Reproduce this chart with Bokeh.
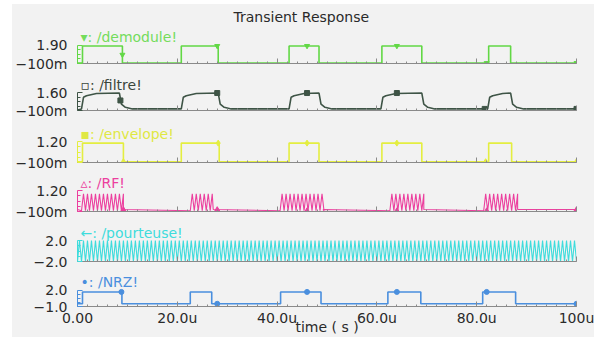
import numpy as np
from bokeh.plotting import figure
from bokeh.models import Range1d, FixedTicker, Label, CustomLabelingPolicy, Spacer
from bokeh.layouts import column, row
from bokeh.embed import file_html
from bokeh.resources import INLINE

# ---------------- data (time in microseconds) ----------------
time_ticks = [0, 20, 40, 60, 80, 100]
time_tick_labels = ["0.00", "20.0u", "40.0u", "60.0u", "80.0u", "100u"]
time_minor_ticks = list(range(0, 101, 2))

# /demodule!  (step waveform)
demodule_t = [0.0, 1.0, 9.0, 20.8, 28.2, 42.4, 48.4, 61.0, 69.0, 82.4, 86.8, 100.0]
demodule_v = [-0.05, 1.8, -0.05, 1.8, -0.05, 1.8, -0.05, 1.8, -0.05, 1.8, -0.05, -0.05]
demodule_mk_t = [9.0, 28.0, 46.0, 64.0, 82.0, 100.0]
demodule_mk_v = [0.85, 1.8, 1.8, 1.8, -0.05, -0.05]

# /filtre!  (filtered, piecewise)
filtre_t = [0.0,
            0.8, 1.2, 1.8, 3.8, 8.4, 8.8, 9.6, 11.0,
            20.8, 21.2, 21.8, 23.8, 28.2, 28.6, 29.4, 30.8,
            42.4, 42.8, 43.4, 45.4, 48.4, 48.8, 49.6, 51.0,
            60.8, 61.2, 61.8, 63.8, 69.0, 69.4, 70.2, 71.6,
            82.2, 82.6, 83.2, 85.2, 86.8, 87.2, 88.0, 89.4,
            100.0]
filtre_v = [-0.05,
            0.05, 1.15, 1.3, 1.5, 1.55, 0.5, 0.2, 0.05,
            0.05, 1.15, 1.3, 1.5, 1.55, 0.5, 0.2, 0.05,
            0.05, 1.15, 1.3, 1.5, 1.55, 0.5, 0.2, 0.05,
            0.05, 1.15, 1.3, 1.5, 1.55, 0.5, 0.2, 0.05,
            0.05, 1.15, 1.3, 1.5, 1.55, 0.5, 0.2, 0.05,
            0.05]
filtre_mk_t = [8.6, 28.0, 46.0, 64.0, 81.6, 100.0]
filtre_mk_v = [0.85, 1.55, 1.55, 1.55, 0.05, 0.05]

# /envelope!
envelope_t = [0.0, 1.0, 9.2, 20.8, 28.4, 42.4, 48.4, 61.0, 69.0, 82.4, 87.0, 100.0]
envelope_v = [-0.05, 1.1, -0.05, 1.1, -0.05, 1.1, -0.05, 1.1, -0.05, 1.1, -0.05, -0.05]
envelope_mk_t = [9.2, 28.2, 46.0, 64.0, 81.8, 100.0]
envelope_mk_v = [-0.05, 1.1, 1.1, 1.1, -0.05, -0.05]

# /RF!  (carrier bursts)
carrier_period = 0.8          # us, read from the stripe spacing
rf_bursts_start = [0.8, 22.6, 40.6, 62.6, 81.4]
rf_bursts_end = [9.2, 27.2, 49.2, 69.4, 88.2]
rf_burst_levels = [-0.05, 1.0]
rf_rest_level = 0.02
rf_mk_t = [9.2, 28.0, 46.0, 64.0, 82.0, 100.0]
rf_mk_v = [0.02, 0.02, -0.05, -0.05, -0.05, 0.02]

# /pourteuse!  (continuous carrier)
pourteuse_start, pourteuse_end = 0.0, 100.0
pourteuse_levels = [-2.0, 2.0]

# /NRZ!
nrz_t = [0.0, 1.0, 8.9, 22.6, 26.9, 40.7, 48.8, 62.2, 68.8, 81.2, 87.8, 100.0]
nrz_v = [-0.5, 1.65, -0.5, 1.65, -0.5, 1.65, -0.5, 1.65, -0.5, 1.65, -0.5, -0.5]
nrz_mk_t = [8.8, 28.0, 46.0, 64.0, 82.0, 100.0]
nrz_mk_v = [1.65, -0.5, 1.65, 1.65, 1.65, -0.5]


def carrier(t0, t1, levels):
    half = carrier_period / 2.0
    n = int(round((t1 - t0) / half))
    ts = [t0 + i * half for i in range(n + 1)]
    vs = [levels[i % 2] for i in range(n + 1)]
    return ts, vs


rf_t, rf_v = [0.0], [rf_rest_level]
for s, e in zip(rf_bursts_start, rf_bursts_end):
    ts, vs = carrier(s, e, rf_burst_levels)
    rf_t += ts + [e]
    rf_v += vs + [rf_rest_level]
rf_t.append(100.0)
rf_v.append(rf_rest_level)

pourteuse_t, pourteuse_v = carrier(pourteuse_start, pourteuse_end, pourteuse_levels)

# ---------------- styling / layout ----------------
LEFT_PAD, TOP_PAD = 12, 4
W = 594 - LEFT_PAD
BG = "#f2f2f2"
AX = "#8a8a8a"
TXT = "#2a2a2a"
MINUS = "\u2212"
x_range = Range1d(0, 100)

# (lo, hi, lo label, hi label, tick-top px, bottom px, frame-top px, fig top px, fig bottom px)
geoms = [
    (-0.1, 1.9, MINUS + "100m", "1.90", 44, 63, 26, 4, 71),
    (-0.1, 1.6, MINUS + "100m", "1.60", 92, 110, 74, 71, 118),
    (-0.1, 1.2, MINUS + "100m", "1.20", 141, 162, 123, 118, 170),
    (-0.1, 1.2, MINUS + "100m", "1.20", 190, 211, 172, 170, 219),
    (-2.0, 2.0, MINUS + "2.0", "2.0", 240, 261, 222, 219, 269),
    (-1.0, 2.0, MINUS + "1.0", "2.0", 291, 309, 273, 269, 337),
]

no_labels = CustomLabelingPolicy(code="for (const i of indices) { if (i < 0) { yield i } }")


def make_panel(g, color, label_text, label_color, last=False):
    lo, hi, lo_lab, hi_lab, ttop, bot, ftop, figtop, figbot = g
    span = (hi - lo) * (bot - ftop) / (bot - ttop)
    p = figure(width=W, height=figbot - figtop, x_range=x_range,
               y_range=Range1d(lo, lo + span),
               output_backend="svg", toolbar_location=None,
               min_border_left=76 - LEFT_PAD, min_border_right=18,
               min_border_top=ftop - figtop, min_border_bottom=figbot - bot)
    p.background_fill_color = BG
    p.border_fill_color = BG
    p.outline_line_color = None
    p.xgrid.visible = False
    p.ygrid.visible = False

    ya = p.yaxis[0]
    ya.ticker = FixedTicker(ticks=[lo, hi], minor_ticks=list(np.linspace(lo, hi, 5)[1:-1]))
    ya.major_label_overrides = {lo: lo_lab, hi: hi_lab}
    ya.bounds = (lo, hi)
    ya.axis_line_color = color
    ya.major_tick_line_color = color
    ya.minor_tick_line_color = color
    ya.major_tick_in = 5
    ya.major_tick_out = 0
    ya.minor_tick_in = 3
    ya.minor_tick_out = 0
    ya.major_label_standoff = 10
    ya.major_label_text_font = "DejaVu Sans"
    ya.major_label_text_font_size = "14px"
    ya.major_label_text_color = TXT

    xa = p.xaxis[0]
    xa.ticker = FixedTicker(ticks=time_ticks, minor_ticks=time_minor_ticks)
    xa.axis_line_color = AX
    xa.major_tick_line_color = AX
    xa.minor_tick_line_color = AX
    xa.major_tick_in = 5
    xa.major_tick_out = 0
    xa.minor_tick_in = 2
    xa.minor_tick_out = 0
    if last:
        xa.major_label_overrides = dict(zip(time_ticks, time_tick_labels))
        xa.major_label_standoff = 3
        xa.major_label_text_font = "DejaVu Sans"
        xa.major_label_text_font_size = "14px"
        xa.major_label_text_color = TXT
        xa.axis_label = "time ( s )"
        xa.axis_label_standoff = -10
        xa.axis_label_text_font = "DejaVu Sans"
        xa.axis_label_text_font_size = "14px"
        xa.axis_label_text_font_style = "normal"
        xa.axis_label_text_color = TXT
    else:
        xa.major_label_policy = no_labels
        xa.major_label_text_font_size = "0px"
        xa.major_label_standoff = 0

    p.add_layout(Label(x=0, y=hi, x_offset=3, y_offset=8, text=label_text,
                       text_font="DejaVu Sans", text_font_size="14px",
                       text_color=label_color, text_baseline="middle"))
    return p


GREEN = "#62d845"
DARK = "#3e5446"
YELLOW = "#e4ee40"
PINK = "#ec3f9e"
CYAN = "#3edcdc"
BLUE = "#4a8fde"

p1 = make_panel(geoms[0], GREEN, "\u25be: /demodule!", "#74dc5c")
p1.title.text = "Transient Response"
p1.title.text_font = "DejaVu Sans"
p1.title.text_font_size = "14px"
p1.title.text_font_style = "normal"
p1.title.text_color = TXT
p1.title.align = "left"
p1.title.offset = 156
p1.title.standoff = 5
p1.step(demodule_t, demodule_v, mode="after", line_color=GREEN, line_width=1.6)
p1.scatter(demodule_mk_t, demodule_mk_v, marker="inverted_triangle", size=5, color=GREEN)

p2 = make_panel(geoms[1], DARK, "\u25ab: /filtre!", "#3a463c")
p2.line(filtre_t, filtre_v, line_color=DARK, line_width=1.6)
p2.scatter(filtre_mk_t, filtre_mk_v, marker="square", size=5, color=DARK)

p3 = make_panel(geoms[2], YELLOW, "\u25aa: /envelope!", "#dfe844")
p3.step(envelope_t, envelope_v, mode="after", line_color=YELLOW, line_width=1.6)
p3.scatter(envelope_mk_t, envelope_mk_v, marker="diamond", size=6, color=YELLOW)

p4 = make_panel(geoms[3], PINK, "\u25b5: /RF!", PINK)
p4.line(rf_t, rf_v, line_color=PINK, line_width=1.1)
p4.scatter(rf_mk_t, rf_mk_v, marker="triangle", size=5, color=PINK)

p5 = make_panel(geoms[4], CYAN, "\u2190: /pourteuse!", CYAN)
p5.line(pourteuse_t, pourteuse_v, line_color=CYAN, line_width=1.1)

p6 = make_panel(geoms[5], BLUE, "\u2022: /NRZ!", BLUE, last=True)
p6.step(nrz_t, nrz_v, mode="after", line_color=BLUE, line_width=1.6)
p6.scatter(nrz_mk_t, nrz_mk_v, marker="circle", size=5, color=BLUE)

panels = column(p1, p2, p3, p4, p5, p6, spacing=0, styles={"background-color": BG})
layout = row(Spacer(width=LEFT_PAD, height=337),
             column(Spacer(width=W, height=TOP_PAD), panels, spacing=0),
             spacing=0)
open("out.html", "w").write(file_html(layout, INLINE))
